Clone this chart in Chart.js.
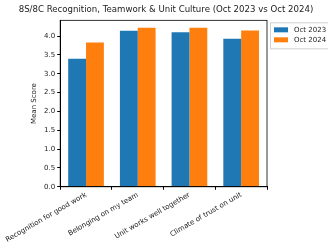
<!DOCTYPE html>
<html>
<head>
<meta charset="utf-8">
<script src="https://cdn.jsdelivr.net/npm/chart.js@4"></script>
<style>
  html, body { margin: 0; padding: 0; background: #fff; }
  #wrap { width: 328px; height: 251px; }
</style>
</head>
<body>
<div id="wrap"><canvas id="c"></canvas></div>
<script>
const categories = [
  "Recognition for good work",
  "Belonging on my team",
  "Unit works well together",
  "Climate of trust on unit",
];
const oct2023 = [3.40, 4.14, 4.10, 3.93];
const oct2024 = [3.83, 4.22, 4.22, 4.15];
const yTicks = [0, 0.5, 1, 1.5, 2, 2.5, 3, 3.5, 4];

const font = "'DejaVu Sans', sans-serif";

// plot frame plus a legend outside the axes, top right
const frames = {
  id: "frames",
  afterDraw(chart) {
    const { ctx, chartArea: a } = chart;
    ctx.save();
    ctx.strokeStyle = "#000";
    ctx.lineWidth = 0.8;
    ctx.strokeRect(a.left, a.top, a.right - a.left, a.bottom - a.top);

    const lx = a.right + 3, ly = a.top + 2;
    ctx.strokeStyle = "#d0d0d0";
    ctx.lineWidth = 1;
    ctx.strokeRect(lx + 0.5, ly + 0.5, 80, 26);
    ctx.font = "7px " + font;
    ctx.textBaseline = "middle";
    chart.data.datasets.forEach((ds, i) => {
      const y = ly + 7.5 + i * 10;
      ctx.fillStyle = ds.backgroundColor;
      ctx.fillRect(lx + 4, y - 2.5, 14, 5);
      ctx.fillStyle = "#222";
      ctx.fillText(ds.label, lx + 24, y);
    });
    ctx.restore();
  },
};

new Chart(document.getElementById("c"), {
  type: "bar",
  data: {
    labels: categories,
    datasets: [
      {
        label: "Oct 2023",
        data: oct2023,
        backgroundColor: "#1f77b4",
        barPercentage: 1.0,
        categoryPercentage: 0.69,
      },
      {
        label: "Oct 2024",
        data: oct2024,
        backgroundColor: "#ff7f0e",
        barPercentage: 1.0,
        categoryPercentage: 0.69,
      },
    ],
  },
  options: {
    responsive: true,
    maintainAspectRatio: false,
    animation: false,
    layout: { padding: { top: 2, left: 4, right: 0, bottom: 6 } },
    plugins: {
      title: {
        display: true,
        text: "8S/8C Recognition, Teamwork & Unit Culture (Oct 2023 vs Oct 2024)",
        color: "#222",
        font: { family: font, size: 8.6, weight: "normal" },
        padding: { top: 3, bottom: 5 },
      },
      legend: { display: false },
      tooltip: { enabled: false },
    },
    scales: {
      x: {
        grid: { drawOnChartArea: false, drawTicks: true, tickLength: 3, color: "#000" },
        border: { display: true, color: "#000" },
        ticks: {
          color: "#222",
          font: { family: font, size: 7 },
          minRotation: 30,
          maxRotation: 30,
          padding: 1,
        },
      },
      y: {
        min: 0,
        max: 4.42,
        afterBuildTicks(axis) {
          axis.ticks = yTicks.map((v) => ({ value: v }));
        },
        grid: { drawOnChartArea: false, drawTicks: true, tickLength: 3, color: "#000" },
        border: { display: true, color: "#000" },
        ticks: {
          color: "#222",
          font: { family: font, size: 7 },
          padding: 2,
          callback: (v) => Number(v).toFixed(1),
        },
        title: {
          display: true,
          text: "Mean Score",
          color: "#222",
          font: { family: font, size: 7 },
          padding: { top: 9, bottom: 4 },
        },
      },
      // empty axis that only reserves room for the legend on the right
      spacer: {
        position: "right",
        display: true,
        grid: { display: false },
        border: { display: false },
        ticks: { display: false },
        afterFit(scale) {
          scale.width = 61;
        },
      },
    },
  },
  plugins: [frames],
});
</script>
</body>
</html>
